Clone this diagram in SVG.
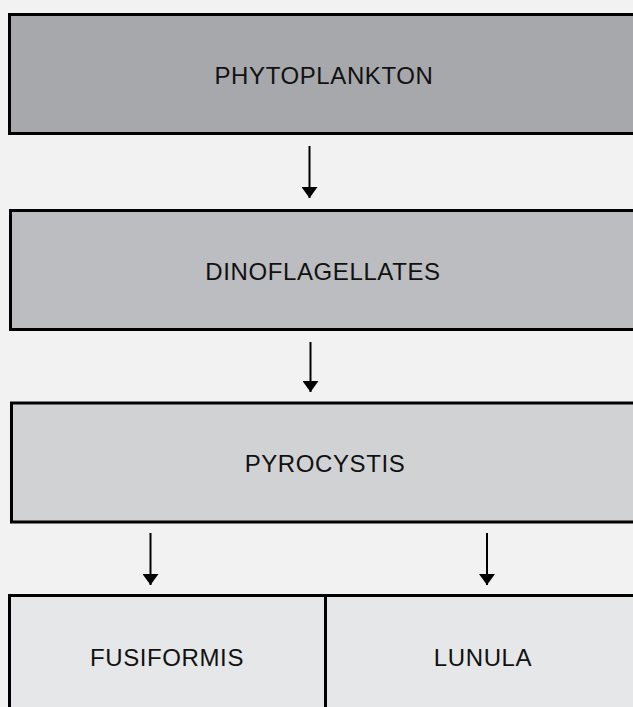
<svg xmlns="http://www.w3.org/2000/svg" width="633" height="707" viewBox="0 0 633 707">
<style>
.box{stroke:#000;stroke-width:3}
.lbl{font-family:"Liberation Sans",Arial,sans-serif;font-size:24px;fill:#111;text-anchor:middle;letter-spacing:0.6px}
.conn{stroke:#000;stroke-width:2;fill:none}
</style>
<defs>
<marker id="ah" viewBox="0 0 11 16" refX="11" refY="8" markerWidth="11" markerHeight="16" markerUnits="userSpaceOnUse" orient="auto">
<path d="M0,0 L11,8 L0,16 Z" fill="#000"/>
</marker>
</defs>
<rect width="633" height="707" fill="#f2f2f2"/>
<g id="phytoplankton">
<rect class="box" x="9.5" y="14.5" width="640" height="119" fill="#a7a8ab"/>
<text class="lbl" x="324" y="84">PHYTOPLANKTON</text>
</g>
<g id="dinoflagellates">
<rect class="box" x="10.5" y="210.5" width="640" height="119" fill="#bcbdc0"/>
<text class="lbl" x="323" y="280">DINOFLAGELLATES</text>
</g>
<g id="pyrocystis">
<rect class="box" x="11.5" y="403" width="640" height="119" fill="#d1d2d4"/>
<text class="lbl" x="325" y="472">PYROCYSTIS</text>
</g>
<g id="fusiformis">
<rect class="box" x="9.5" y="595.5" width="316" height="130" fill="#e6e7e8"/>
<text class="lbl" x="167" y="666">FUSIFORMIS</text>
</g>
<g id="lunula">
<rect class="box" x="325.5" y="595.5" width="320" height="130" fill="#e6e7e8"/>
<text class="lbl" x="483" y="666">LUNULA</text>
</g>
<g id="connectors">
<line class="conn" x1="309.5" y1="146" x2="309.5" y2="198" marker-end="url(#ah)"/>
<line class="conn" x1="310.5" y1="342" x2="310.5" y2="392" marker-end="url(#ah)"/>
<line class="conn" x1="150.5" y1="533" x2="150.5" y2="585" marker-end="url(#ah)"/>
<line class="conn" x1="487" y1="533" x2="487" y2="585" marker-end="url(#ah)"/>
</g>
</svg>
